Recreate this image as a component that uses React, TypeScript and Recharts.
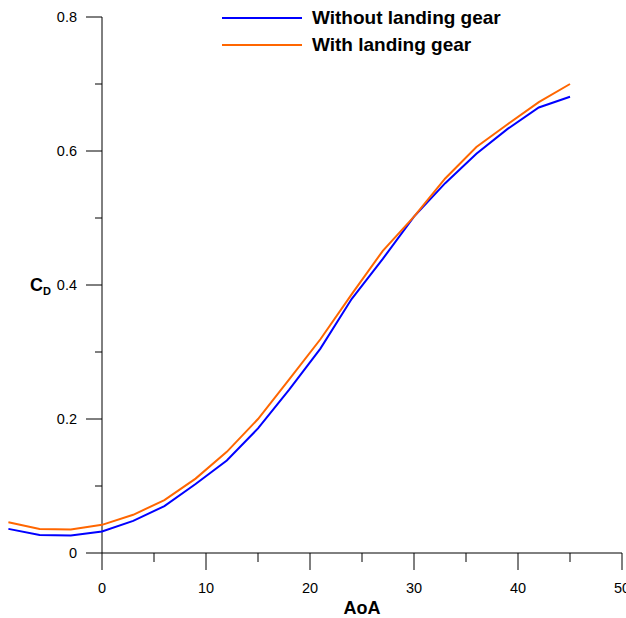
import { LineChart, Line, XAxis, YAxis, Legend, ReferenceLine } from 'recharts';

const aoa = [-9, -6, -3, 0, 3, 6, 9, 12, 15, 18, 21, 24, 27, 30, 33, 36, 39, 42, 45];
const cdWithout = [0.036, 0.027, 0.026, 0.032, 0.048, 0.070, 0.103, 0.138, 0.186, 0.244, 0.305, 0.379, 0.439, 0.502, 0.552, 0.596, 0.633, 0.665, 0.681];
const cdWith = [0.046, 0.036, 0.035, 0.042, 0.057, 0.079, 0.111, 0.151, 0.200, 0.259, 0.319, 0.386, 0.451, 0.502, 0.559, 0.606, 0.640, 0.673, 0.700];

const xTicks = [0, 5, 10, 15, 20, 25, 30, 35, 40, 45, 50];
const xLabels: Record<number, string> = { 0: '0', 10: '10', 20: '20', 30: '30', 40: '40', 50: '50' };
const yTicks = [0, 0.1, 0.2, 0.3, 0.4, 0.5, 0.6, 0.7, 0.8];
const yLabels = ['0', '', '0.2', '', '0.4', '', '0.6', '', '0.8'];

const seriesNames = ['Without landing gear', 'With landing gear'];
const seriesColors = ['#0000ff', '#ff6600'];

const W = 626;
const H = 618;
const LEFT = 8.4;
const RIGHT = 4;
const TOP = 17;
const XAXIS_H = 65;
const XMIN = -9;
const XMAX = 50;
const PLOT_W = W - LEFT - RIGHT;
const X0 = LEFT + ((0 - XMIN) / (XMAX - XMIN)) * PLOT_W;
const PLOT_BOTTOM = H - XAXIS_H;
const FONT = '"Liberation Sans", Arial, sans-serif';

const data = aoa.map((a, i) => ({ aoa: a, without: cdWithout[i], with: cdWith[i] }));

function XTick(props: any) {
  const { x, payload } = props;
  const v = payload.value;
  const major = v % 10 === 0;
  return (
    <g>
      <line x1={x} x2={x} y1={PLOT_BOTTOM} y2={PLOT_BOTTOM + (major ? 17 : 9)} stroke="#000" strokeWidth={1} />
      {major && (
        <text x={x} y={PLOT_BOTTOM + 40} textAnchor="middle" fontSize={14.5} fontFamily={FONT} fill="#000">
          {xLabels[v]}
        </text>
      )}
    </g>
  );
}

function YTick(props: any) {
  const { y, payload } = props;
  const idx = Math.round(payload.value * 10);
  const label = yLabels[idx];
  const major = label !== '';
  return (
    <g>
      <line x1={X0 - (major ? 16 : 7)} x2={X0} y1={y} y2={y} stroke="#000" strokeWidth={1} />
      {major && (
        <text x={X0 - 25} y={y + 5} textAnchor="end" fontSize={14.5} fontFamily={FONT} fill="#000">
          {label}
        </text>
      )}
      {label === '0.4' && (
        <text x={30} y={y + 6} fontFamily={FONT} fontWeight="bold" fill="#000">
          <tspan fontSize={18}>C</tspan>
          <tspan fontSize={11} dy={4}>D</tspan>
        </text>
      )}
    </g>
  );
}

function LegendContent() {
  return (
    <div style={{ fontFamily: FONT }}>
      {seriesNames.map((name, i) => (
        <div key={name} style={{ display: 'flex', alignItems: 'center', height: 27 }}>
          <div style={{ width: 80, height: 2, background: seriesColors[i], marginRight: 10 }} />
          <span style={{ fontSize: 19, fontWeight: 'bold', color: '#000' }}>{name}</span>
        </div>
      ))}
    </div>
  );
}

export default function App() {
  return (
    <div style={{ position: 'absolute', left: 0, top: 0, width: W, height: H, background: '#fff' }}>
      <LineChart width={W} height={H} data={data} margin={{ top: TOP, right: RIGHT, bottom: 0, left: 0 }}>
        <XAxis
          dataKey="aoa"
          type="number"
          domain={[XMIN, XMAX]}
          ticks={xTicks}
          interval={0}
          height={XAXIS_H}
          axisLine={false}
          tickLine={false}
          tick={<XTick />}
          label={{
            content: () => (
              <text x={(X0 + W - RIGHT) / 2} y={614} textAnchor="middle" fontSize={18} fontWeight="bold" fontFamily={FONT} fill="#000">
                AoA
              </text>
            ),
          }}
        />
        <YAxis
          type="number"
          domain={[0, 0.8]}
          ticks={yTicks}
          interval={0}
          width={LEFT}
          axisLine={false}
          tickLine={false}
          tick={<YTick />}
        />
        <ReferenceLine segment={[{ x: 0, y: 0 }, { x: 0, y: 0.8 }]} stroke="#000" strokeWidth={1} />
        <ReferenceLine segment={[{ x: 0, y: 0 }, { x: 50, y: 0 }]} stroke="#000" strokeWidth={1} />
        <Legend
          layout="horizontal"
          verticalAlign="middle"
          align="center"
          content={<LegendContent />}
          wrapperStyle={{ position: 'absolute', left: 222, top: 4, width: 320 }}
        />
        <Line type="linear" dataKey="without" stroke={seriesColors[0]} strokeWidth={2} dot={false} isAnimationActive={false} />
        <Line type="linear" dataKey="with" stroke={seriesColors[1]} strokeWidth={2} dot={false} isAnimationActive={false} />
      </LineChart>
    </div>
  );
}
